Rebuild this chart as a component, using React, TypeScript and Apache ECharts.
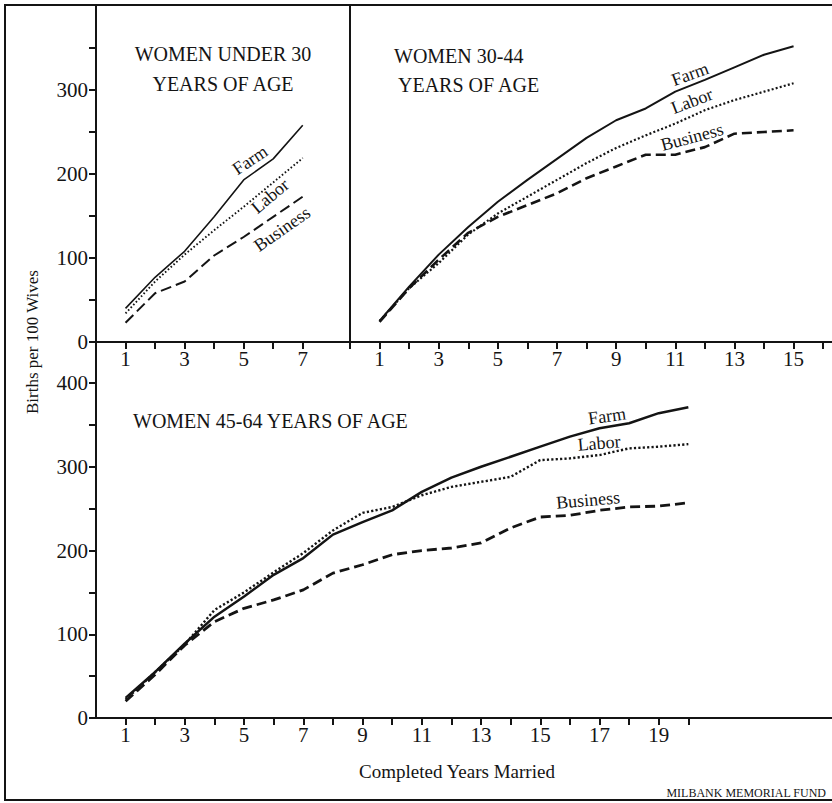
import React, { useEffect, useRef } from "react";
import * as echarts from "echarts";

// ---- Data ----
const yearsUnder30 = [1, 2, 3, 4, 5, 6, 7];
const farmUnder30 = [40, 77, 108, 149, 193, 218, 258];
const laborUnder30 = [34, 72, 104, 133, 161, 190, 219];
const businessUnder30 = [23, 58, 72, 103, 125, 149, 173];

const years30to44 = [1, 2, 3, 4, 5, 6, 7, 8, 9, 10, 11, 12, 13, 14, 15];
const farm30to44 = [25, 66, 104, 137, 167, 193, 218, 243, 264, 278, 298, 312, 327, 342, 352];
const labor30to44 = [25, 64, 94, 128, 153, 173, 193, 213, 231, 246, 260, 276, 288, 298, 308];
const business30to44 = [24, 64, 98, 130, 149, 163, 177, 195, 209, 223, 223, 232, 248, 250, 252];

const years45to64 = [1, 2, 3, 4, 5, 6, 7, 8, 9, 10, 11, 12, 13, 14, 15, 16, 17, 18, 19, 20];
const farm45to64 = [24, 55, 89, 121, 145, 171, 191, 219, 234, 248, 270, 287, 300, 312, 324, 336, 346, 352, 364, 371];
const labor45to64 = [22, 55, 88, 129, 150, 174, 197, 224, 245, 252, 266, 276, 282, 288, 308, 310, 314, 322, 324, 327];
const business45to64 = [20, 52, 87, 115, 131, 141, 153, 173, 183, 195, 200, 203, 209, 227, 240, 242, 248, 252, 253, 257];

const topYTicks = [0, 50, 100, 150, 200, 250, 300, 350];
const topYLabels = [0, 100, 200, 300];
const bottomYTicks = [0, 50, 100, 150, 200, 250, 300, 350, 400];
const bottomYLabels = [0, 100, 200, 300, 400];
const xTicksUnder30 = [1, 2, 3, 4, 5, 6, 7];
const xLabelsUnder30 = [1, 3, 5, 7];
const xTicks30to44 = [0, 1, 2, 3, 4, 5, 6, 7, 8, 9, 10, 11, 12, 13, 14, 15, 16];
const xLabels30to44 = [1, 3, 5, 7, 9, 11, 13, 15];
const xTicks45to64 = [1, 2, 3, 4, 5, 6, 7, 8, 9, 10, 11, 12, 13, 14, 15, 16, 17, 18, 19, 20];
const xLabels45to64 = [1, 3, 5, 7, 9, 11, 13, 15, 17, 19];

const FONT = "Liberation Serif";
const INK = "#141414";

const pairs = (xs: number[], ys: number[]) => xs.map((x, i) => [x, ys[i]]);

const deg = (d: number) => (d * Math.PI) / 180;

export default function App() {
  const ref = useRef<HTMLDivElement>(null);

  useEffect(() => {
    if (!ref.current) return;
    const chart = echarts.init(ref.current, undefined, { renderer: "svg" });

    const axisLine = { show: true, lineStyle: { color: INK, width: 2 } };
    const numLabel = { color: INK, fontFamily: FONT, fontSize: 21 };

    const xAxisBase = (gridIndex: number, max: number, ticks: number[], labels: number[]) => ({
      type: "value",
      gridIndex,
      min: 0,
      max,
      axisLine,
      splitLine: { show: false },
      axisTick: { show: true, inside: false, length: 7, lineStyle: { color: INK, width: 2 }, customValues: ticks },
      axisLabel: { ...numLabel, margin: 6, customValues: labels },
    });

    const lineSeries = (
      name: string,
      idx: number,
      data: number[][],
      width: number,
      type: any,
      cap: any = "butt"
    ) => ({
      name,
      type: "line",
      xAxisIndex: idx,
      yAxisIndex: idx,
      data,
      showSymbol: false,
      symbol: "none",
      smooth: false,
      lineStyle: { color: INK, width, type, cap },
      z: 3,
    });

    const label = (text: string, x: number, y: number, rot: number, size = 18) => ({
      type: "text",
      x,
      y,
      rotation: deg(rot),
      style: {
        text,
        fill: INK,
        font: `${size}px "${FONT}"`,
        align: "center",
        verticalAlign: "middle",
      },
    });

    const title = (text: string, x: number, y: number, align: string, size = 20) => ({
      type: "text",
      x,
      y,
      style: {
        text,
        fill: INK,
        font: `${size}px "${FONT}"`,
        align,
        verticalAlign: "middle",
      },
    });

    const border = (x1: number, y1: number, x2: number, y2: number) => ({
      type: "line",
      shape: { x1, y1, x2, y2 },
      style: { stroke: INK, lineWidth: 2 },
    });

    chart.setOption({
      animation: false,
      backgroundColor: "#ffffff",
      grid: [
        { left: 96, top: 6, width: 254, height: 336, outerBoundsMode: "none", containLabel: false },
        { left: 350, top: 6, width: 482, height: 336, outerBoundsMode: "none", containLabel: false },
        { left: 96, top: 342, width: 736, height: 376, outerBoundsMode: "none", containLabel: false },
      ],
      xAxis: [
        xAxisBase(0, 8.6, xTicksUnder30, xLabelsUnder30),
        xAxisBase(1, 16.3, xTicks30to44, xLabels30to44),
        xAxisBase(2, 24.85, xTicks45to64, xLabels45to64),
      ],
      yAxis: [
        {
          type: "value",
          gridIndex: 0,
          min: 0,
          max: 400,
          axisLine,
          splitLine: { show: false },
          axisTick: { show: true, length: 7, lineStyle: { color: INK, width: 2 }, customValues: topYTicks },
          axisLabel: { ...numLabel, margin: 8, customValues: topYLabels },
        },
        {
          type: "value",
          gridIndex: 1,
          min: 0,
          max: 400,
          axisLine,
          splitLine: { show: false },
          axisTick: { show: false },
          axisLabel: { show: false },
        },
        {
          type: "value",
          gridIndex: 2,
          min: 0,
          max: 449,
          axisLine,
          splitLine: { show: false },
          axisTick: { show: true, length: 7, lineStyle: { color: INK, width: 2 }, customValues: bottomYTicks },
          axisLabel: { ...numLabel, margin: 8, customValues: bottomYLabels },
        },
      ],
      series: [
        lineSeries("Farm", 0, pairs(yearsUnder30, farmUnder30), 1.6, "solid"),
        lineSeries("Labor", 0, pairs(yearsUnder30, laborUnder30), 1.9, [1.6, 2.2]),
        lineSeries("Business", 0, pairs(yearsUnder30, businessUnder30), 2, [11, 5]),
        lineSeries("Farm", 1, pairs(years30to44, farm30to44), 2, "solid"),
        lineSeries("Labor", 1, pairs(years30to44, labor30to44), 2.2, [2, 2.2]),
        lineSeries("Business", 1, pairs(years30to44, business30to44), 2.6, [10, 5]),
        lineSeries("Farm", 2, pairs(years45to64, farm45to64), 2.5, "solid"),
        lineSeries("Labor", 2, pairs(years45to64, labor45to64), 2.4, [2.2, 2.2]),
        lineSeries("Business", 2, pairs(years45to64, business45to64), 2.8, [10, 5]),
      ],
      graphic: [
        border(5, 5, 5, 801),
        border(4, 5, 832, 5),
        border(4, 800, 832, 800),
        // panel titles
        title("WOMEN UNDER 30", 223, 54, "center"),
        title("YEARS OF AGE", 223, 84, "center"),
        title("WOMEN 30-44", 394, 56, "left"),
        title("YEARS OF AGE", 398, 85, "left"),
        title("WOMEN 45-64 YEARS OF AGE", 133, 421, "left"),
        // inline series labels
        label("Farm", 250, 160, 34),
        label("Labor", 270, 196, 40),
        label("Business", 282, 229, 35),
        label("Farm", 690, 74, 20),
        label("Labor", 692, 101, 21),
        label("Business", 692, 137, 15),
        label("Farm", 607, 416, 8),
        label("Labor", 599, 443, 5),
        label("Business", 588, 500, 5),
        // axis names
        {
          type: "text",
          x: 32,
          y: 342,
          rotation: deg(90),
          style: {
            text: "Births per 100 Wives",
            fill: INK,
            font: `17px "${FONT}"`,
            align: "center",
            verticalAlign: "middle",
          },
        },
        title("Completed Years Married", 457, 771, "center", 19),
        title("MILBANK MEMORIAL FUND", 826, 793, "right", 12),
      ],
    });

    return () => chart.dispose();
  }, []);

  return (
    <div
      ref={ref}
      style={{ position: "fixed", left: 0, top: 0, width: 832, height: 803, background: "#fff" }}
    />
  );
}
